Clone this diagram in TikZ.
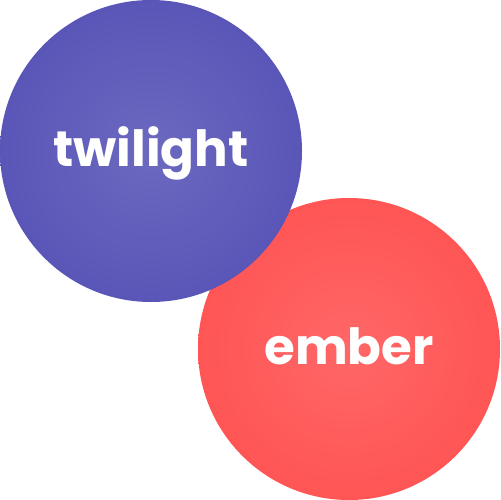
\documentclass[tikz,border=0pt]{standalone}
\usepackage{fontspec}
\setmainfont{Poppins}
\definecolor{blueIn}{HTML}{6C69C0}
\definecolor{blueOut}{HTML}{5956B8}
\definecolor{redIn}{HTML}{FF6767}
\definecolor{redOut}{HTML}{FF5555}
\begin{document}
\begin{tikzpicture}[x=1bp,y=-1bp,
  bubble/.style={circle,minimum size=302bp,inner sep=0pt},
  lbl/.style={text=white,font=\fontsize{50}{50}\selectfont\bfseries}]
\useasboundingbox (0,0) rectangle (500,500);
\node[bubble,inner color=redIn,outer color=redOut] (ember) at (349,349) {};
\node[bubble,inner color=blueIn,outer color=blueOut] (twilight) at (151,151) {};
\node[lbl,anchor=base] (t1) at (151,167) {twilight};
\node[lbl,anchor=base] (t2) at (349,364) {ember};
\end{tikzpicture}
\end{document}
